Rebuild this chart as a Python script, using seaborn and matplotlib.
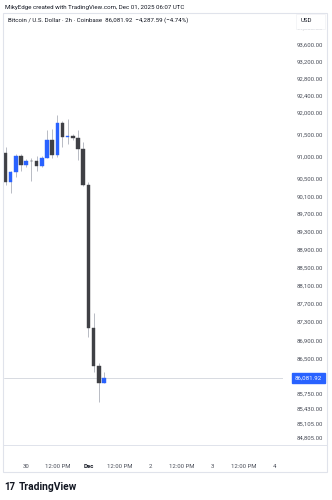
import matplotlib
matplotlib.use("Agg")
import matplotlib.pyplot as plt
import seaborn as sns
import pandas as pd
from matplotlib.patches import Rectangle
from matplotlib.lines import Line2D
from matplotlib.ticker import FixedLocator, NullLocator, FixedFormatter
from matplotlib.transforms import blended_transform_factory

# ---------------- data (2h candles, Coinbase BTC/USD) ----------------
bar_times = ["Nov 29 16:00", "Nov 29 18:00", "Nov 29 20:00", "Nov 29 22:00",
             "Nov 30 00:00", "Nov 30 02:00", "Nov 30 04:00", "Nov 30 06:00",
             "Nov 30 08:00", "Nov 30 10:00", "Nov 30 12:00", "Nov 30 14:00",
             "Nov 30 16:00", "Nov 30 18:00", "Nov 30 20:00", "Nov 30 22:00",
             "Dec 01 00:00", "Dec 01 02:00", "Dec 01 04:00", "Dec 01 06:00"]
opens = [91075, 90430, 90660, 91007, 90818, 90905, 90893, 90779, 90977, 91388,
         91046, 91760, 91440, 91470, 91435, 91170, 90350, 87170, 86332, 85975]
closes = [90430, 90660, 91007, 90818, 90905, 90893, 90779, 90977, 91388, 91046,
          91760, 91440, 91470, 91435, 91170, 90350, 87170, 86332, 85975, 86081.92]
highs = [91220, 90680, 91070, 91070, 90955, 90977, 91023, 91023, 91616, 91639,
         91957, 91820, 91866, 91520, 91610, 91330, 90420, 87492, 86400, 86219]
lows = [90360, 90180, 90545, 90680, 90772, 90450, 90680, 90770, 90960, 90977,
        91000, 91213, 91280, 91388, 90930, 90340, 86975, 86219, 85573, 85975]

last_price = 86081.92
price_ticks = [94000, 93600, 93200, 92800, 92400, 92000, 91500, 91000, 90500,
               90100, 89700, 89300, 88900, 88500, 88100, 87700, 87300, 86900,
               86500, 85750, 85430, 85105, 84805]
time_tick_bars = [4, 10, 16, 22, 28, 34, 40, 46, 52]
time_tick_labels = ["30", "12:00 PM", "Dec", "12:00 PM", "2", "12:00 PM", "3",
                    "12:00 PM", "4"]

header = "MikyEdge created with TradingView.com, Dec 01, 2025 06:07 UTC"
legend = "Bitcoin / U.S. Dollar · 2h · Coinbase  86,081.92  \u22124,287.59 (\u22124.74%)"

# ---------------- style ----------------
sns.set_theme(style="white")
plt.rcParams["font.family"] = ["Roboto", "DejaVu Sans"]

UP = "#2962ff"
DOWN = "#3f4045"
WICK = "#b8bbc4"
TXT = "#131722"
AX_TXT = "#4a4e59"
FRAME = "#e0e3eb"

df = pd.DataFrame({"time": bar_times, "open": opens, "close": closes,
                   "high": highs, "low": lows})
df["idx"] = range(len(df))
df["up"] = df["close"] >= df["open"]

W, H = 332, 500
fig = plt.figure(figsize=(W / 100, H / 100), dpi=100)
fig.patch.set_facecolor("white")

px_l, px_r, px_t, px_b = 4, 283, 14, 445
ax = fig.add_axes([px_l / W, 1 - px_b / H, (px_r - px_l) / W, (px_b - px_t) / H])
ax.set_facecolor("white")

# wicks
ax.vlines(df["idx"], df["low"], df["high"], color=WICK, lw=0.7, zorder=2)
# bodies
bottoms = df[["open", "close"]].min(axis=1)
heights = (df["open"] - df["close"]).abs().clip(lower=12)
colors = [UP if u else DOWN for u in df["up"]]
ax.bar(df["idx"], heights, bottom=bottoms, width=0.68, color=colors,
       edgecolor=colors, linewidth=0.3, zorder=3)

# last price line
ax.axhline(last_price, color="#d1d4dc", lw=0.6, zorder=1)

ax.set_yscale("log")
ax.set_ylim(84648, 94314)
ax.set_xlim(-0.29, 53.57)

ax.yaxis.set_major_locator(FixedLocator(price_ticks))
ax.yaxis.set_major_formatter(FixedFormatter([f"{p:,.2f}" for p in price_ticks]))
ax.yaxis.set_minor_locator(NullLocator())
ax.yaxis.tick_right()
ax.tick_params(axis="y", length=0, pad=10, labelsize=4.3, labelcolor=AX_TXT)

ax.set_xticks(time_tick_bars)
ax.set_xticklabels(time_tick_labels)
ax.tick_params(axis="x", length=0, pad=14, labelsize=4.3, labelcolor=AX_TXT)
for lab in ax.get_xticklabels():
    if lab.get_text() == "Dec":
        lab.set_fontweight("bold")
        lab.set_color(TXT)

for s in ax.spines.values():
    s.set_visible(False)
ax.grid(False)

# last price label
tr = blended_transform_factory(ax.transAxes, ax.transData)
ax.text(1.043, last_price, f"{last_price:,.2f}", transform=tr, ha="left",
        va="center", fontsize=4.4, color="white", zorder=10, clip_on=False,
        bbox=dict(boxstyle="square,pad=0.45", fc=UP, ec=UP))

# frame and separators
fig.patches.append(Rectangle((3 / W, 1 - 472 / H), 324 / W, (472 - 13) / H,
                             transform=fig.transFigure, fill=False,
                             edgecolor=FRAME, lw=0.8))
fig.lines.append(Line2D([3 / W, 327 / W], [1 - 445 / H, 1 - 445 / H],
                        transform=fig.transFigure, color=FRAME, lw=0.7))

# USD box
fig.patches.append(Rectangle((296 / W, 1 - 29 / H), 29 / W, 15 / H,
                             transform=fig.transFigure, facecolor="white",
                             edgecolor="#f0f1f4", lw=0.5, zorder=20))
fig.text(301 / W, 1 - 20.5 / H, "USD", fontsize=4.4, color=TXT, va="center",
         ha="left", zorder=21)

# header texts
fig.text(5 / W, 1 - 7 / H, header, fontsize=4.4, color=TXT, va="center", ha="left")
fig.text(8 / W, 1 - 20.5 / H, legend, fontsize=4.4, color=TXT, va="center", ha="left")

# TradingView logo
fig.text(4 / W, 1 - 487 / H, "17", fontsize=7, fontweight="bold", color=TXT,
         va="center", ha="left")
fig.text(19 / W, 1 - 487 / H, "TradingView", fontsize=7.4, fontweight="bold",
         color=TXT, va="center", ha="left")

fig.savefig("out.png", dpi=100)
